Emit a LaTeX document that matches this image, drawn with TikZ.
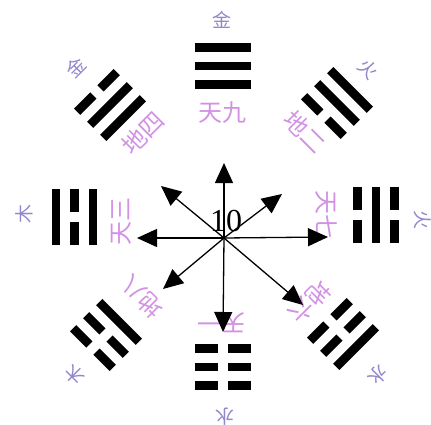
\documentclass[tikz,border=0pt]{standalone}
\usepackage{fontspec}
\setmainfont{Liberation Serif}
\newfontfamily\cjk{Noto Sans CJK SC}
\usetikzlibrary{arrows.meta}
\definecolor{numcol}{RGB}{210,145,228}
\definecolor{elemcol}{RGB}{145,135,205}
\tikzset{
  numlbl/.style={font=\cjk\fontsize{24}{24}\selectfont, text=numcol, inner sep=0pt},
  elemlbl/.style={font=\cjk\fontsize{19}{19}\selectfont, text=elemcol, inner sep=0pt},
  ray/.style={line width=1.3pt, -{Triangle[length=20pt,width=18pt]}},
  tennum/.style={font=\fontsize{32}{32}\selectfont, inner sep=0pt},
}
\newcommand\yaoline[2]{%
  \ifnum#1=1
    \fill (-28,#2-4.4) rectangle (28,#2+4.4);
  \else
    \fill (-28,#2-4.4) rectangle (-5,#2+4.4);
    \fill (5,#2-4.4) rectangle (28,#2+4.4);
  \fi}
\newcommand\gua[6]{%
  \begin{scope}[shift={(#1,#2)}, rotate=#3]
    \yaoline{#4}{18.5}\yaoline{#5}{0}\yaoline{#6}{-18.5}
  \end{scope}}
\begin{document}
\begin{tikzpicture}[x=1pt,y=-1pt]
\useasboundingbox (0,0) rectangle (431,425);
% trigrams: x, y, rotation, inner, middle, outer
\gua{223}{66}{0}{1}{1}{1}
\gua{337}{103}{-45}{0}{1}{1}
\gua{376}{215}{-90}{0}{1}{0}
\gua{343}{334}{-135}{0}{0}{1}
\gua{223}{367}{180}{0}{0}{0}
\gua{106}{335}{135}{1}{0}{0}
\gua{74.5}{217}{90}{1}{0}{1}
\gua{110}{105}{45}{1}{1}{0}
% number labels
\node[numlbl] (n9) at (222,113) {天九};
\node[numlbl, rotate=-45] (n2) at (305,132) {地二};
\node[numlbl, rotate=-90] (n7) at (326,214) {天七};
\node[numlbl, rotate=-135] (n6) at (310,302) {地六};
\node[numlbl, rotate=180] (n1) at (221,323) {天一};
\node[numlbl, rotate=135] (n8) at (142,297) {地八};
\node[numlbl, rotate=90] (n3) at (121,221) {天三};
\node[numlbl, rotate=45] (n4) at (143,133) {地四};
% element labels
\node[elemlbl] (eT) at (222,20) {金};
\node[elemlbl, rotate=45] (eTL) at (76,67) {金};
\node[elemlbl, rotate=-45] (eTR) at (368,69) {火};
\node[elemlbl, rotate=-90] (eR) at (423,220) {火};
\node[elemlbl, rotate=-135] (eBR) at (378,375) {水};
\node[elemlbl, rotate=180] (eB) at (225,417) {水};
\node[elemlbl, rotate=135] (eBL) at (75,375) {木};
\node[elemlbl, rotate=90] (eL) at (24,214) {木};
% center arrows
\coordinate (c) at (224,238);
\coordinate (tU) at (224,163);
\coordinate (tD) at (223,332);
\coordinate (tL) at (137,238);
\coordinate (tR) at (328,237);
\coordinate (tUL) at (161,186);
\coordinate (tUR) at (282,194);
\coordinate (tLL) at (163,289);
\coordinate (tLR) at (303,305);
\foreach \t in {tU,tD,tL,tR,tUL,tUR,tLL,tLR} \draw[ray] (c) -- (\t);
\node[tennum] (ten) at (226,221) {10};
\end{tikzpicture}
\end{document}
